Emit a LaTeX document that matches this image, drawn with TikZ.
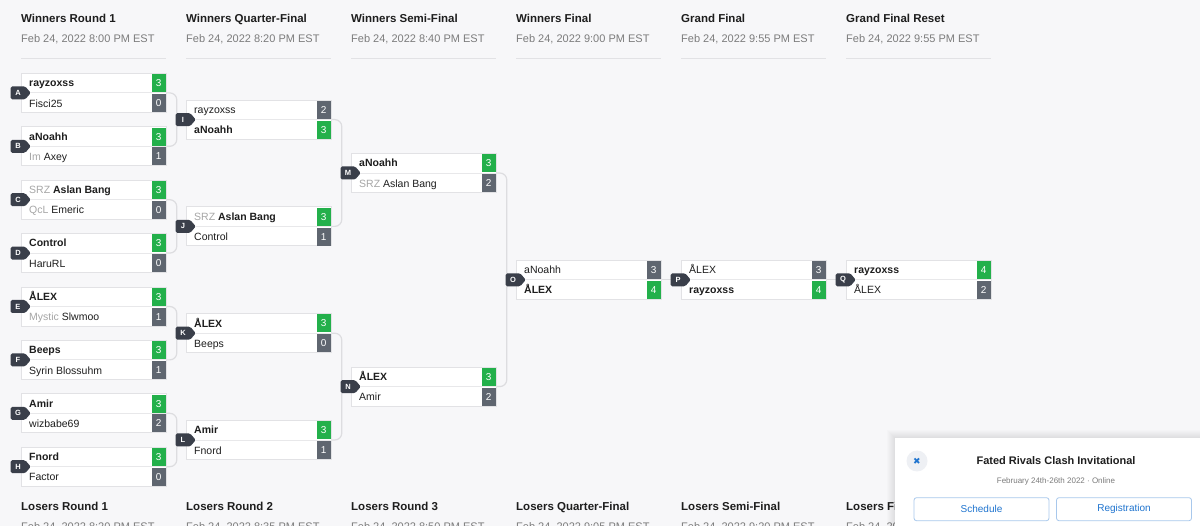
\documentclass[tikz,border=0pt]{standalone}
\usepackage{fontspec}
\setmainfont{Liberation Sans}
\newfontfamily\symfont{DejaVu Sans}
\usetikzlibrary{shapes.symbols}

\definecolor{pagebg}{HTML}{F7F7F9}
\definecolor{boxline}{HTML}{E2E2E5}
\definecolor{rowline}{HTML}{E8E8EA}
\definecolor{win}{HTML}{23B04B}
\definecolor{lose}{HTML}{5F6670}
\definecolor{tagc}{HTML}{3A3F4A}
\definecolor{connc}{HTML}{DDDDE0}
\definecolor{pregray}{HTML}{A6A6A6}
\definecolor{datec}{HTML}{7C7C7C}
\definecolor{inkc}{HTML}{1E1E1E}
\definecolor{btnblue}{HTML}{1F74CF}
\definecolor{btnline}{HTML}{A8C8EC}
\definecolor{closebg}{HTML}{EEF0F4}

\newcommand{\pre}[1]{\textcolor{pregray}{#1}}

\begin{document}
\begin{tikzpicture}[x=1pt,y=-1pt]
  \tikzstyle{match}=[draw=boxline, fill=white, line width=0.8pt, minimum width=145pt,
    minimum height=39pt, inner sep=0pt, anchor=north west]
  \tikzstyle{team}=[anchor=west, inner sep=0pt, text height=8pt, text depth=0pt,
    font=\fontsize{10.5}{12}\selectfont, text=inkc]
  \tikzstyle{score}=[anchor=north east, minimum width=14pt, minimum height=18pt, inner sep=0pt,
    text=white, font=\fontsize{10}{12}\selectfont]
  \tikzstyle{tagbox}=[signal, signal to=east, signal pointer angle=100, fill=tagc, text=white,
    minimum height=13pt, minimum width=20pt, inner sep=1.5pt, rounded corners=1.5pt,
    font=\fontsize{7.5}{8}\bfseries\selectfont]
  \tikzstyle{conn}=[draw=connc, line width=1.2pt, rounded corners=7pt]
  \tikzstyle{headtitle}=[anchor=base west, inner sep=0pt, text=inkc,
    font=\fontsize{11.5}{13}\bfseries\selectfont]
  \tikzstyle{headdate}=[anchor=base west, inner sep=0pt, text=datec, font=\fontsize{11}{13}\selectfont]
  \tikzstyle{btn}=[draw=btnline, rounded corners=2.5pt, line width=0.8pt, minimum width=135pt,
    minimum height=23pt, text=btnblue, font=\fontsize{10}{12}\selectfont]

  \useasboundingbox (0,0) rectangle (1200,526);
  \fill[pagebg] (0,0) rectangle (1200,526);

  % column heads
  \foreach \t/\d [count=\i from 0] in {Winners Round 1/8:00, Winners Quarter-Final/8:20,
      Winners Semi-Final/8:40, Winners Final/9:00, Grand Final/9:55, Grand Final Reset/9:55} {
    \node[headtitle] (wt\i) at ({21+165*\i},22.7) {\t};
    \node[headdate] (wd\i) at ({21+165*\i},42.3) {Feb 24, 2022 \d\ PM EST};
    \draw[boxline, line width=1pt] ({21+165*\i},59) -- ++(145,0);
  }
  \foreach \t/\d [count=\i from 0] in {Losers Round 1/8:20, Losers Round 2/8:35,
      Losers Round 3/8:50, Losers Quarter-Final/9:05, Losers Semi-Final/9:20, Losers Final/9:35} {
    \node[headtitle] (lt\i) at ({21+165*\i},511) {\t};
    \node[headdate] (ld\i) at ({21+165*\i},530.6) {Feb 24, 2022 \d\ PM EST};
  }

  % matches
  \foreach \id/\x/\y/\ta/\sa/\ca/\tb/\sb/\cb in {
      A/21/73/{\bfseries rayzoxss}/3/win/Fisci25/0/lose,
      B/21/126.4/{\bfseries aNoahh}/3/win/{\pre{Im} Axey}/1/lose,
      C/21/179.8/{\pre{SRZ} \bfseries Aslan Bang}/3/win/{\pre{QcL} Emeric}/0/lose,
      D/21/233.2/{\bfseries Control}/3/win/HaruRL/0/lose,
      E/21/286.6/{\bfseries ÅLEX}/3/win/{\pre{Mystic} Slwmoo}/1/lose,
      F/21/340/{\bfseries Beeps}/3/win/Syrin Blossuhm/1/lose,
      G/21/393.4/{\bfseries Amir}/3/win/wizbabe69/2/lose,
      H/21/446.8/{\bfseries Fnord}/3/win/Factor/0/lose,
      I/186/99.7/rayzoxss/2/lose/{\bfseries aNoahh}/3/win,
      J/186/206.5/{\pre{SRZ} \bfseries Aslan Bang}/3/win/Control/1/lose,
      K/186/313.3/{\bfseries ÅLEX}/3/win/Beeps/0/lose,
      L/186/420.1/{\bfseries Amir}/3/win/Fnord/1/lose,
      M/351/153.1/{\bfseries aNoahh}/3/win/{\pre{SRZ} Aslan Bang}/2/lose,
      N/351/366.7/{\bfseries ÅLEX}/3/win/Amir/2/lose,
      O/516/259.9/aNoahh/3/lose/{\bfseries ÅLEX}/4/win,
      P/681/259.9/ÅLEX/3/lose/{\bfseries rayzoxss}/4/win,
      Q/846/259.9/{\bfseries rayzoxss}/4/win/ÅLEX/2/lose} {
    \node[match] (\id) at (\x,\y) {};
    \draw[rowline, line width=0.8pt] (\id.west) -- (\id.east);
    \node[score, fill=\ca] (\id-sa) at ([shift={(-1pt,-1pt)}]\id.north east) {\sa};
    \node[score, fill=\cb] (\id-sb) at ([shift={(-1pt,-1pt)}]\id.east) {\sb};
    \node[team] (\id-ta) at ([shift={(8pt,-9.75pt)}]\id.north west) {\ta};
    \node[team] (\id-tb) at ([shift={(8pt,9.75pt)}]\id.south west) {\tb};
  }

  % brackets
  \foreach \a/\b in {A/B, C/D, E/F, G/H, I/J, K/L, M/N} {
    \draw[conn] (\a.east) -- ++(10,0) |- (\b.east);
  }
  \draw[conn] (O.east) -- (P.west);
  \draw[conn] (P.east) -- (Q.west);

  % match tags
  \foreach \id in {A,B,C,D,E,F,G,H,I,J,K,L,M,N,O,P,Q} {
    \node[tagbox] (\id-tag) at ([xshift=-3pt]\id.west) {\id};
  }

  % event popup
  \foreach \s in {1,...,8} {
    \fill[black, opacity=0.012] ({895-\s},{438-\s}) rectangle (1210,536);
  }
  \node[fill=white, anchor=north west, minimum width=320pt, minimum height=100pt,
    inner sep=0pt] (pop) at (895,438) {};
  \node[circle, fill=closebg, minimum size=21pt, inner sep=0pt, text=btnblue,
    font=\symfont\fontsize{9}{9}\selectfont] (close) at (917,461) {✖};
  \node[text=inkc, font=\fontsize{11}{13}\bfseries\selectfont] (ptitle) at (1056,461)
    {Fated Rivals Clash Invitational};
  \node[text=datec, font=\fontsize{8}{9}\selectfont] (psub) at (1056,481)
    {February 24th-26th 2022 · Online};
  \node[btn] (sched) at (981.5,509.2) {Schedule};
  \node[btn] (reg) at (1124,509.2) {Registration};
\end{tikzpicture}
\end{document}
